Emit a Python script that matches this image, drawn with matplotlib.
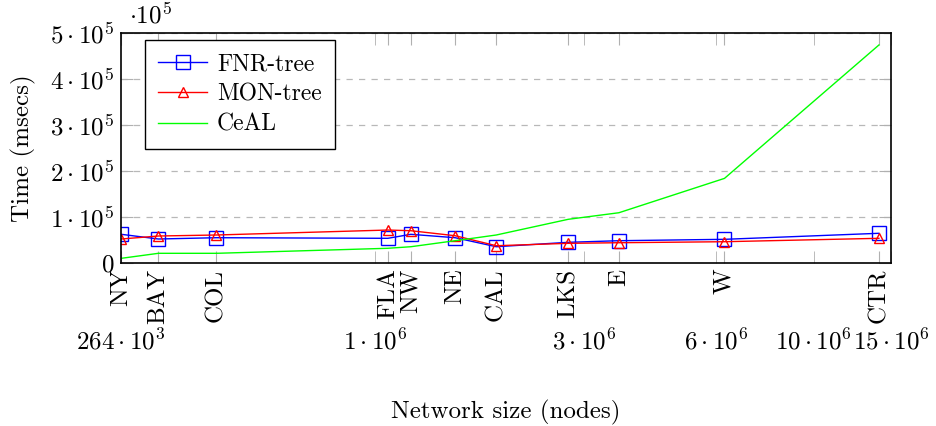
import numpy as np
import matplotlib.pyplot as plt
from matplotlib.ticker import FixedLocator, NullFormatter, FixedFormatter

plt.rcParams['font.family'] = 'serif'
plt.rcParams['font.serif'] = ['cmr10']
plt.rcParams['mathtext.fontset'] = 'cm'
plt.rcParams['axes.formatter.use_mathtext'] = True

# road networks and their sizes (nodes)
networks = ['NY', 'BAY', 'COL', 'FLA', 'NW', 'NE', 'CAL', 'LKS', 'E', 'W', 'CTR']
nodes = [264346, 321270, 435666, 1070376, 1207945, 1524453, 1890815,
         2758119, 3598623, 6262104, 14081816]

# running times (msecs)
fnr_tree = [62400, 52200, 55000, 53700, 62400, 55000, 35400, 45000, 48500, 51500, 64600]
mon_tree = [52200, 58700, 60900, 71700, 70200, 59300, 37600, 42800, 44100, 46300, 53700]
ceal = [10200, 21100, 21100, 32000, 35400, 48500, 60900, 95000, 109300, 184000, 474000]

size_ticks = [264e3, 1e6, 3e6, 6e6, 10e6, 15e6]
size_labels = [r'$264\cdot10^3$', r'$1\cdot10^6$', r'$3\cdot10^6$',
               r'$6\cdot10^6$', r'$10\cdot10^6$', r'$15\cdot10^6$']
time_ticks = [0, 1e5, 2e5, 3e5, 4e5, 5e5]
time_labels = ['$0$'] + [r'$%d\cdot10^5$' % k for k in range(1, 6)]

FS = 18

fig = plt.figure(figsize=(9.36, 4.26), dpi=100)
ax = fig.add_axes([0.1293, 0.3826, 0.8226, 0.5399])

ax.plot(nodes, fnr_tree, color=(0, 0, 1), lw=1.0, marker='s', ms=10,
        mfc='none', mec=(0, 0, 1), mew=1.0, label='FNR-tree')
ax.plot(nodes, mon_tree, color=(1, 0, 0), lw=1.0, marker='^', ms=7,
        mfc='none', mec=(1, 0, 0), mew=1.0, label='MON-tree')
ax.plot(nodes, ceal, color=(0, 1, 0), lw=1.0, label='CeAL')

ax.set_xscale('log')
ax.set_xlim(264e3, 15e6)
ax.set_ylim(0, 5e5)

ax.xaxis.set_major_locator(FixedLocator(nodes))
ax.xaxis.set_major_formatter(FixedFormatter(networks))
ax.xaxis.set_minor_locator(FixedLocator(size_ticks))
ax.xaxis.set_minor_formatter(FixedFormatter(size_labels))
ax.tick_params(axis='x', which='major', direction='in', top=True, length=8.5,
               color='#b0b0b0', labelsize=FS, labelrotation=90, pad=4)
ax.tick_params(axis='x', which='minor', direction='in', top=True, length=8.5,
               color='#b0b0b0', labelsize=FS, pad=47)

ax.set_yticks(time_ticks)
ax.set_yticklabels(time_labels)
ax.tick_params(axis='y', direction='in', right=True, length=8.5,
               color='#b0b0b0', labelsize=FS, pad=5)

ax.yaxis.grid(True, linestyle=(0, (5, 5)), color='#b8b8b8', lw=0.9)
ax.set_axisbelow(True)
for s in ax.spines.values():
    s.set_linewidth(1.2)

ax.text(0.01, 1.02, r'$\cdot10^5$', transform=ax.transAxes, fontsize=FS,
        ha='left', va='bottom')

ax.set_ylabel('Time (msecs)', fontsize=FS, labelpad=10)
ax.set_xlabel('Network size (nodes)', fontsize=FS)
ax.xaxis.set_label_coords(0.5, -0.595)

leg = ax.legend(loc='upper left', bbox_to_anchor=(0.031, 0.97), fontsize=17,
                frameon=True, fancybox=False, edgecolor='black', framealpha=1,
                handlelength=2.1, borderpad=0.55, labelspacing=0.35,
                borderaxespad=0, handletextpad=0.4)
leg.get_frame().set_linewidth(1.0)

fig.savefig('out.png', dpi=100)
